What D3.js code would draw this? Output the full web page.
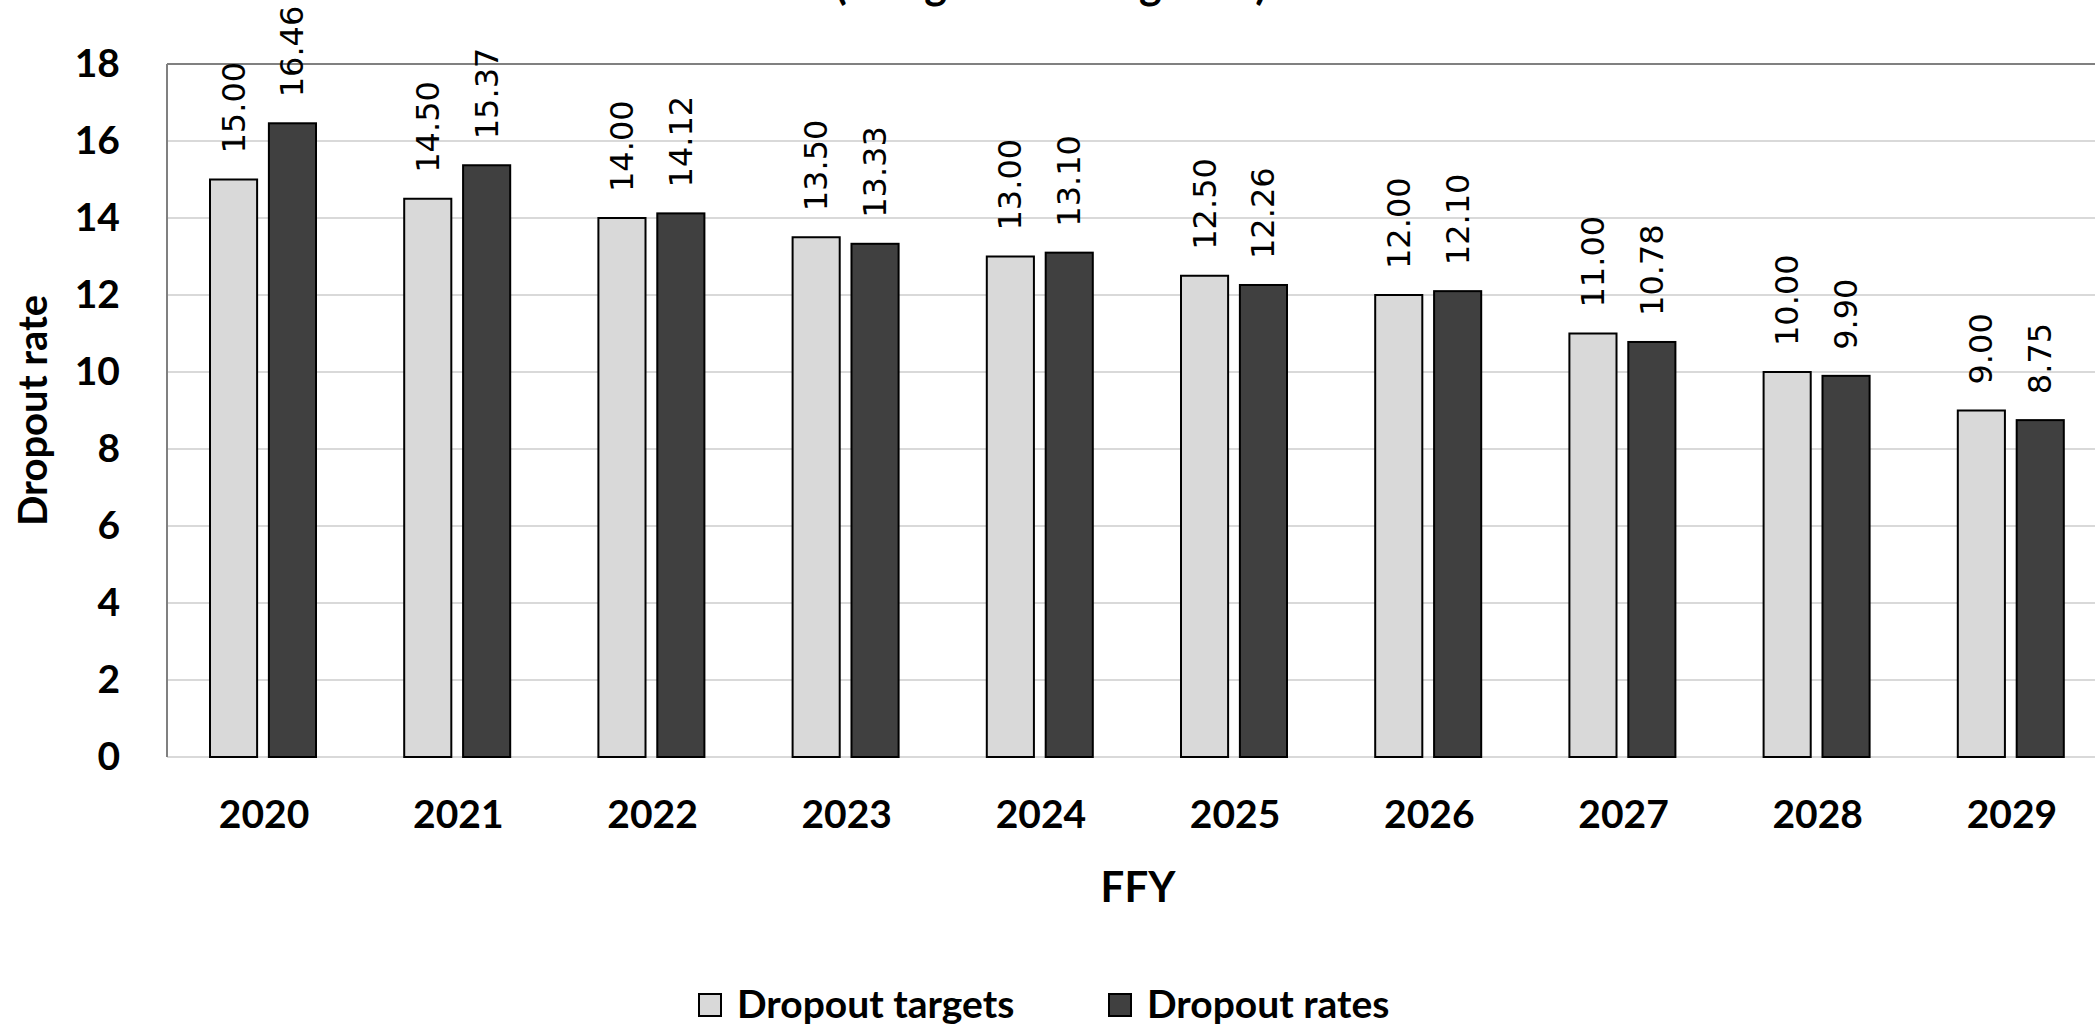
<!DOCTYPE html>
<html>
<head>
<meta charset="utf-8">
<script src="https://cdn.jsdelivr.net/npm/d3@7"></script>
<style>
  body { margin: 0; background: #fff; overflow: hidden; }
  svg { display: block; }
</style>
</head>
<body>
<script>
// chart data
var years = ["2020", "2021", "2022", "2023", "2024", "2025", "2026", "2027", "2028", "2029"];
var targets = [15.00, 14.50, 14.00, 13.50, 13.00, 12.50, 12.00, 11.00, 10.00, 9.00];
var rates = [16.46, 15.37, 14.12, 13.33, 13.10, 12.26, 12.10, 10.78, 9.90, 8.75];
var seriesNames = ["Dropout targets", "Dropout rates"];
var yTicks = [0, 2, 4, 6, 8, 10, 12, 14, 16, 18];

var width = 2095, height = 1028;
var plotLeft = 167, plotRight = 2109, plotTop = 64, plotBottom = 757;
var fills = ["#d9d9d9", "#404040"];
var labelFont = "Lato, 'Open Sans', sans-serif";

var rows = years.map(function (y, i) {
    return { year: y, values: [targets[i], rates[i]] };
});

var svg = d3.select("body").append("svg")
    .attr("width", width)
    .attr("height", height);

var x0 = d3.scaleBand()
    .domain(years)
    .range([plotLeft, plotRight])
    .padding(0);

var x1 = d3.scaleBand()
    .domain([0, 1])
    .range([43, 149])
    .paddingInner(0.2);

var y = d3.scaleLinear()
    .domain([0, 18])
    .range([plotBottom, plotTop]);

// title, mostly cut off above the picture
svg.append("text")
    .attr("x", 1051)
    .attr("y", -1)
    .attr("text-anchor", "middle")
    .style("font-family", labelFont)
    .style("font-weight", "700")
    .style("font-size", "43px")
    .text("(using the exiting data)");

// gridlines
svg.append("g")
    .selectAll("line")
    .data(yTicks)
    .enter()
    .append("line")
    .attr("x1", plotLeft)
    .attr("x2", plotRight)
    .attr("y1", function (d) { return y(d); })
    .attr("y2", function (d) { return y(d); })
    .style("stroke", "#d9d9d9")
    .style("stroke-width", 2);

// plot border: left and top
svg.append("line")
    .attr("x1", plotLeft).attr("x2", plotLeft)
    .attr("y1", plotTop).attr("y2", plotBottom)
    .style("stroke", "#808080").style("stroke-width", 2);
svg.append("line")
    .attr("x1", plotLeft).attr("x2", plotRight)
    .attr("y1", plotTop).attr("y2", plotTop)
    .style("stroke", "#808080").style("stroke-width", 2);

// y axis labels
var yAxis = d3.axisLeft(y).tickValues(yTicks).tickSize(0).tickPadding(0);
var yg = svg.append("g")
    .attr("transform", "translate(120,0)")
    .call(yAxis);
yg.select(".domain").remove();
yg.selectAll("text")
    .style("font-family", labelFont)
    .style("font-weight", "700")
    .style("font-size", "39px")
    .style("fill", "#000");

// x axis labels
var xAxis = d3.axisBottom(x0).tickSize(0).tickPadding(0);
var xg = svg.append("g")
    .attr("transform", "translate(0,800)")
    .call(xAxis);
xg.select(".domain").remove();
xg.selectAll("text")
    .style("font-family", labelFont)
    .style("font-weight", "700")
    .style("font-size", "39px")
    .style("fill", "#000");

// bars
var groups = svg.append("g")
    .selectAll("g")
    .data(rows)
    .enter()
    .append("g")
    .attr("transform", function (d) { return "translate(" + x0(d.year) + ",0)"; });

groups.selectAll("rect")
    .data(function (d) { return d.values; })
    .enter()
    .append("rect")
    .attr("x", function (d, i) { return x1(i); })
    .attr("y", function (d) { return y(d); })
    .attr("width", x1.bandwidth())
    .attr("height", function (d) { return y(0) - y(d); })
    .style("fill", function (d, i) { return fills[i]; })
    .style("stroke", "#000")
    .style("stroke-width", 2);

// value labels, rotated
groups.selectAll("text.val")
    .data(function (d) { return d.values; })
    .enter()
    .append("text")
    .attr("class", "val")
    .attr("transform", function (d, i) {
        var cx = x1(i) + x1.bandwidth() / 2;
        return "translate(" + (cx + 11) + "," + (y(d) - 26) + ") rotate(-90)";
    })
    .style("font-family", "'DejaVu Sans', sans-serif")
    .style("font-size", "32px")
    .style("fill", "#000")
    .text(function (d) { return d.toFixed(2); });

// axis titles
svg.append("text")
    .attr("x", (plotLeft + plotRight) / 2)
    .attr("y", 902)
    .attr("text-anchor", "middle")
    .style("font-family", labelFont)
    .style("font-weight", "700")
    .style("font-size", "42px")
    .text("FFY");

svg.append("text")
    .attr("transform", "translate(47," + ((plotTop + plotBottom) / 2) + ") rotate(-90)")
    .attr("text-anchor", "middle")
    .style("font-family", labelFont)
    .style("font-weight", "700")
    .style("font-size", "40px")
    .text("Dropout rate");

// legend
var legendX = [699, 1109];
var legend = svg.append("g")
    .selectAll("g")
    .data(seriesNames)
    .enter()
    .append("g")
    .attr("transform", function (d, i) { return "translate(" + legendX[i] + ",994)"; });

legend.append("rect")
    .attr("width", 22)
    .attr("height", 22)
    .style("fill", function (d, i) { return fills[i]; })
    .style("stroke", "#000")
    .style("stroke-width", 2);

legend.append("text")
    .attr("x", 38)
    .attr("y", 24)
    .style("font-family", labelFont)
    .style("font-weight", "700")
    .style("font-size", "39px")
    .text(function (d) { return d; });
</script>
</body>
</html>
